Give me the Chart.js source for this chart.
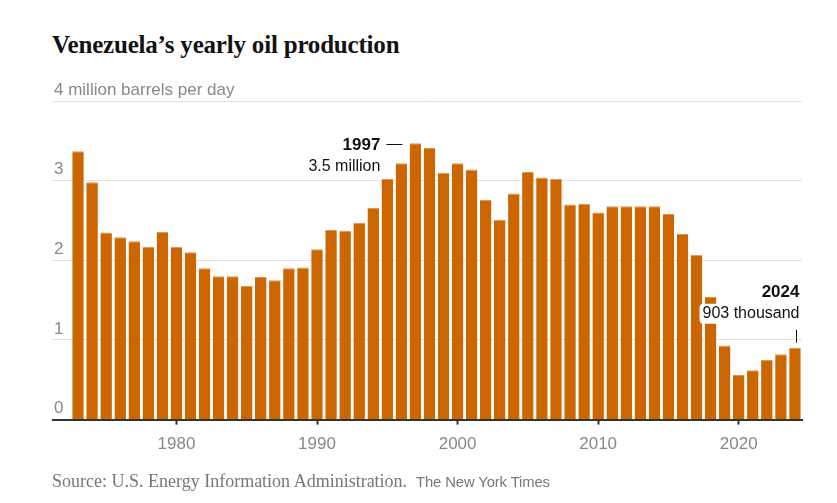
<!DOCTYPE html>
<html>
<head>
<meta charset="utf-8">
<script src="https://cdn.jsdelivr.net/npm/chart.js@4"></script>
<style>
html,body{margin:0;padding:0;background:#fff;}
#wrap{position:relative;width:837px;height:503px;overflow:hidden;}
#c{position:absolute;left:0;top:0;}
.title{position:absolute;left:52px;top:32px;font:bold 25px "Liberation Serif",serif;line-height:1;color:#121212;white-space:nowrap;letter-spacing:-0.2px;}
.src{position:absolute;left:52px;top:472px;font:18px "Liberation Serif",serif;line-height:1;color:#777;white-space:nowrap;}
.nyt{position:absolute;left:416px;top:475px;font:14.8px "Liberation Sans",sans-serif;line-height:1;color:#777;white-space:nowrap;letter-spacing:-0.1px;}
</style>
</head>
<body>
<div id="wrap">
  <div class="title">Venezuela’s yearly oil production</div>
  <canvas id="c" width="837" height="503"></canvas>
  <div class="src">Source: U.S. Energy Information Administration.</div>
  <div class="nyt">The New York Times</div>
</div>
<script>
const years = [1973,1974,1975,1976,1977,1978,1979,1980,1981,1982,1983,1984,1985,1986,1987,1988,1989,1990,1991,1992,1993,1994,1995,1996,1997,1998,1999,2000,2001,2002,2003,2004,2005,2006,2007,2008,2009,2010,2011,2012,2013,2014,2015,2016,2017,2018,2019,2020,2021,2022,2023,2024];
const production = [3.37,2.98,2.35,2.29,2.24,2.17,2.36,2.17,2.10,1.90,1.80,1.80,1.68,1.79,1.75,1.90,1.91,2.14,2.38,2.37,2.47,2.66,3.02,3.22,3.47,3.41,3.10,3.22,3.14,2.76,2.51,2.84,3.11,3.04,3.02,2.70,2.71,2.60,2.68,2.68,2.68,2.68,2.58,2.33,2.07,1.54,0.93,0.56,0.62,0.75,0.82,0.903];
const xTicks = [1980,1990,2000,2010,2020];
const yTicks = [0,1,2,3,4];
const yTopLabel = '4 million barrels per day';
const noteYears = [1997, 2024];
const noteTitles = ['1997', '2024'];
const noteLabels = ['3.5 million', '903 thousand'];

const BAR = '#cc6600';
const SANS = '"Liberation Sans", Arial, sans-serif';

const annotate = {
  id: 'annotate',
  afterDatasetsDraw(chart) {
    const ctx = chart.ctx, xs = chart.scales.x, ys = chart.scales.y;
    ctx.save();
    // 1997
    let i = years.indexOf(noteYears[0]);
    let px = xs.getPixelForValue(noteYears[0]);
    let py = ys.getPixelForValue(production[i]);
    ctx.fillStyle = '#121212';
    ctx.textAlign = 'right';
    ctx.textBaseline = 'middle';
    ctx.font = 'bold 17px ' + SANS;
    ctx.fillText(noteTitles[0], px - 35, py + 2.5);
    ctx.font = '16px ' + SANS;
    ctx.fillText(noteLabels[0], px - 35, py + 23);
    ctx.strokeStyle = '#121212';
    ctx.lineWidth = 1;
    ctx.beginPath();
    ctx.moveTo(px - 29, Math.round(py + 1) + 0.5);
    ctx.lineTo(px - 13, Math.round(py + 1) + 0.5);
    ctx.stroke();
    // 2024
    i = years.indexOf(noteYears[1]);
    px = xs.getPixelForValue(noteYears[1]);
    py = ys.getPixelForValue(production[i]);
    ctx.font = '16px ' + SANS;
    const w = ctx.measureText(noteLabels[1]).width;
    const rx = px + 4.5;
    ctx.fillStyle = '#fff';
    ctx.beginPath();
    if (ctx.roundRect) ctx.roundRect(rx - w - 3, py - 44, w + 5, 20, 4); else ctx.rect(rx - w - 3, py - 44, w + 5, 20);
    ctx.fill();
    ctx.fillStyle = '#121212';
    ctx.fillText(noteLabels[1], rx, py - 34);
    ctx.font = 'bold 17px ' + SANS;
    ctx.fillText(noteTitles[1], rx, py - 55);
    ctx.beginPath();
    ctx.moveTo(Math.round(px + 1) + 0.5, py - 18);
    ctx.lineTo(Math.round(px + 1) + 0.5, py - 5);
    ctx.stroke();
    ctx.restore();
  }
};

new Chart(document.getElementById('c'), {
  type: 'bar',
  data: {
    datasets: [{
      data: years.map((y, k) => ({x: y, y: production[k]})),
      backgroundColor: BAR,
      borderColor: '#e0934a',
      borderWidth: {top: 1, left: 0, right: 0, bottom: 0},
      borderSkipped: 'start',
      barPercentage: 0.82,
      categoryPercentage: 1
    }]
  },
  options: {
    responsive: false,
    animation: false,
    devicePixelRatio: 1,
    layout: {padding: {left: 51, right: 35, top: 101, bottom: 38}},
    plugins: {legend: {display: false}, tooltip: {enabled: false}, title: {display: false}},
    scales: {
      x: {
        type: 'linear',
        min: 1971.22,
        max: 2024.5,
        offset: false,
        afterBuildTicks(s) { s.ticks = xTicks.map(v => ({value: v})); },
        grid: {display: true, drawOnChartArea: false, drawTicks: true, tickLength: 5, tickColor: '#333', tickWidth: 2, offset: false},
        border: {display: true, color: '#333', width: 2, z: 1},
        ticks: {color: '#888', font: {family: SANS, size: 17}, padding: 10, maxRotation: 0, autoSkip: false, callback: v => String(v)}
      },
      y: {
        min: 0,
        max: 4,
        afterBuildTicks(s) { s.ticks = yTicks.map(v => ({value: v})); },
        grid: {color: '#e2e2e2', lineWidth: 1, drawTicks: false},
        border: {display: false},
        ticks: {mirror: true, padding: 1, labelOffset: -11, color: '#888', font: {family: SANS, size: 17},
          callback: v => v === 4 ? yTopLabel : String(v)}
      }
    }
  },
  plugins: [annotate]
});
</script>
</body>
</html>
